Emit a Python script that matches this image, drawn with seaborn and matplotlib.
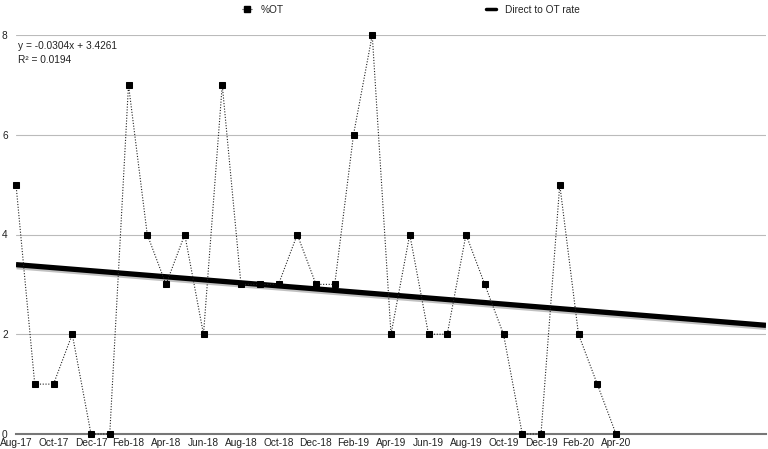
import matplotlib
matplotlib.use('Agg')
import matplotlib.pyplot as plt
import matplotlib.patheffects as pe
from matplotlib.lines import Line2D
import numpy as np
import pandas as pd
import seaborn as sns

sns.set_style(style='white')
plt.rcParams['font.family'] = ['Liberation Sans', 'DejaVu Sans']

months = ['Aug-17', 'Sep-17', 'Oct-17', 'Nov-17', 'Dec-17', 'Jan-18', 'Feb-18', 'Mar-18',
          'Apr-18', 'May-18', 'Jun-18', 'Jul-18', 'Aug-18', 'Sep-18', 'Oct-18', 'Nov-18',
          'Dec-18', 'Jan-19', 'Feb-19', 'Mar-19', 'Apr-19', 'May-19', 'Jun-19', 'Jul-19',
          'Aug-19', 'Sep-19', 'Oct-19', 'Nov-19', 'Dec-19', 'Jan-20', 'Feb-20', 'Mar-20',
          'Apr-20']
pct_ot = [5, 1, 1, 2, 0, 0, 7, 4, 3, 4, 2, 7, 3, 3, 3, 4, 3, 3, 6, 8, 2, 4, 2, 2,
          4, 3, 2, 0, 0, 5, 2, 1, 0]
trend_months = 41  # trendline forecast runs on past the data

df = pd.DataFrame({'idx': np.arange(len(months)), 'pct': pct_ot})

fig = plt.figure(figsize=(7.68, 4.49), dpi=100)
ax = fig.add_axes([16 / 768, 15 / 449, 750 / 768, 399 / 449])

# trendline (excel style, x = 1..n)
slope, intercept = np.polyfit(np.arange(1, len(pct_ot) + 1), pct_ot, 1)
tx = np.arange(1, trend_months + 1)
ax.plot(tx - 1, slope * tx + intercept, color='black', lw=3.8, zorder=2,
        solid_capstyle='butt',
        path_effects=[pe.SimpleLineShadow(offset=(0.5, -1.5), shadow_color='#999999', alpha=0.6),
                      pe.Normal()])

sns.lineplot(data=df, x='idx', y='pct', ax=ax, color='#222222', lw=0.8,
             linestyle=(0, (1, 1.5)), marker='s', markersize=5.0,
             markerfacecolor='black', markeredgecolor='black', zorder=3, clip_on=False)

ax.set_xlim(0, trend_months - 1)
ax.set_ylim(0, 8)
ax.set_yticks([0, 2, 4, 6, 8])
ax.set_xticks(df['idx'][::2])
ax.set_xticklabels(months[::2])
ax.yaxis.grid(True, color='#bbbbbb', lw=0.8)
ax.set_axisbelow(True)
for s in ['top', 'right', 'left']:
    ax.spines[s].set_visible(False)
ax.spines['bottom'].set_color('#777777')
ax.spines['bottom'].set_linewidth(1.5)
ax.tick_params(axis='both', length=0, labelsize=7.3, colors='#222222')
ax.tick_params(axis='x', pad=3)
ax.tick_params(axis='y', pad=6)
ax.set_xlabel('')
ax.set_ylabel('')

ax.text(0.002, 0.985, 'y = -0.0304x + 3.4261\nR² = 0.0194', transform=ax.transAxes,
        fontsize=7.3, va='top', ha='left', linespacing=1.5, color='#222222')

handles = [Line2D([], [], color='#333333', lw=0.8, linestyle=':', marker='s',
                  markersize=4.5, markerfacecolor='black', markeredgecolor='black'),
           Line2D([], [], color='black', lw=2.5)]
fig.legend(handles, ['%OT', 'Direct to OT rate'], loc='upper center', ncol=2,
           bbox_to_anchor=(0.535, 1.01), frameon=False, fontsize=7.3, handlelength=1.0,
           columnspacing=20, handletextpad=0.8)

fig.savefig('out.png', dpi=100)
plt.close(fig)
